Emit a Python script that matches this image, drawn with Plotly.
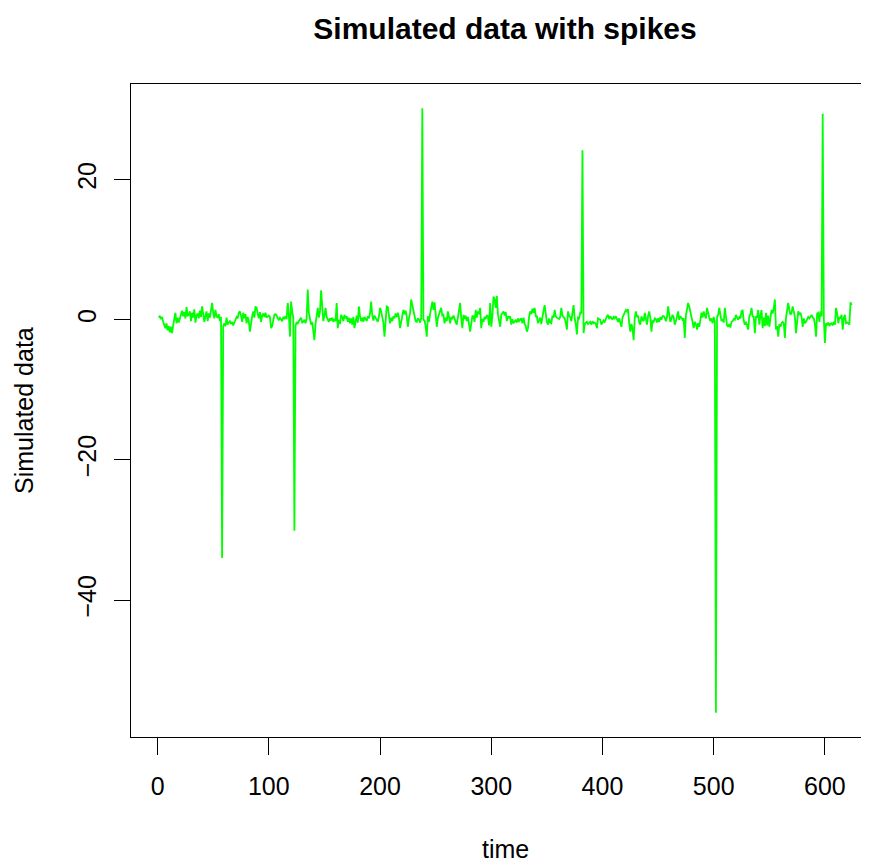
import plotly.graph_objects as go

# ---- data ----
values = [
    0.3, 0.5, 0.2, 0.4, -0.3, -0.8, -1.2, -0.5, -1.5, -0.9, -1.8, -1.0, -1.9, -0.8, 0.5, 1.0, -0.5, 0.3, -0.4, 0.2,
    0.8, 1.3, 0.5, 1.1, 0.2, 1.8, 0.6, 0.7, 1.2, -0.2, 1.0, 0.3, 1.5, -0.4, 0.6, 0.9, 0.2, 1.3, 0.4, 1.9,
    0.8, -0.3, 0.5, 1.2, -0.2, 0.9, 0.3, 1.1, 2.4, 1.0, 0.2, 1.4, 0.5, 0.3, 0.8, -0.2, 0.4, -34.0, -0.9, -0.5,
    -0.9, 0.3, -0.7, -0.4, -0.2, -0.6, -0.3, -0.8, -0.5, 0.0, 0.4, 0.2, 1.0, 1.2, 0.6, -0.3, 1.0, 0.2, 0.8, -0.5,
    0.4, -0.2, -1.7, -0.4, 0.5, 1.2, 0.3, 1.9, 1.7, 0.9, 0.2, 1.1, -0.3, 0.6, 0.9, 0.4, 1.0, 0.3, 0.5, 0.6,
    0.4, -1.2, -0.9, 0.2, 0.7, 0.8, 0.6, 0.2, 0.0, 0.3, 0.1, -0.2, 0.4, 0.2, 0.5, 0.1, 2.4, 0.8, -2.4, 2.6,
    1.2, 0.3, -30.1, -0.9, -0.3, -0.6, -0.2, 0.1, 0.3, -0.4, -0.3, 0.0, -0.5, 0.2, 4.3, 1.0, -0.2, -0.7, -0.3, -1.5,
    -2.9, -0.6, 0.5, 1.7, 0.3, 1.2, 4.2, 1.2, -0.2, 0.6, 1.7, 0.4, 0.0, -0.3, 0.2, -0.1, 0.3, -0.3, 0.1, -0.2,
    2.4, -1.2, 0.0, -0.6, 0.7, 0.4, -0.2, 0.7, 0.2, 0.5, -0.3, 0.3, -0.5, 0.2, -0.7, 0.4, -1.2, 0.1, 0.6, -0.4,
    1.9, 0.5, -0.2, 0.3, -0.3, 0.4, 0.1, -0.2, 0.5, 0.2, 0.9, 2.6, 0.7, -0.1, 0.6, 0.3, 0.1, -0.3, 0.5, 1.7,
    1.2, 0.3, -0.4, -2.4, 0.6, 1.9, 1.8, 0.4, -0.5, 0.3, -0.2, 0.5, 0.2, 0.9, 0.4, 1.0, 0.3, -1.2, -0.3, 0.6,
    1.4, 0.8, 1.3, 0.5, -1.0, 0.2, 0.9, 2.9, 2.1, 1.4, 0.6, -0.2, -0.3, 0.2, 0.0, -0.4, 0.3, 30.2, 0.0, -0.1,
    -0.9, -2.4, 0.5, -0.3, 0.8, 1.6, 2.6, 1.4, 2.5, 0.9, -1.0, 0.3, 0.8, 1.4, 1.7, 0.6, 0.7, -0.5, 0.3, -0.2,
    1.2, 0.4, -0.5, 0.3, 0.2, 0.6, 0.0, -0.3, -0.7, 0.5, 1.0, 2.4, 0.2, -1.2, 0.7, 0.1, 0.6, -0.2, 0.4, -0.5,
    -1.7, -0.6, 0.5, 0.5, -0.3, 1.4, 0.3, 1.2, 0.8, 1.7, -1.2, 0.1, -0.3, 0.4, 0.1, 0.6, 0.5, -0.8, 2.4, -1.0,
    0.5, 3.3, 2.9, 1.7, 3.4, 0.8, -0.5, -1.0, 0.7, 0.9, 1.2, 0.6, 1.1, -0.2, 0.5, 0.2, 0.5, -0.7, 0.1, -0.5,
    -0.3, 0.0, -0.4, 0.2, -0.2, 0.1, 0.2, -0.5, 0.3, -0.6, -0.9, -1.7, -1.2, 0.4, 1.2, 0.8, 1.6, 1.0, 1.7, 0.5,
    0.5, -0.5, -0.2, 0.3, -0.6, 0.7, 1.3, 2.1, 0.7, -0.3, -0.7, 0.2, -0.4, -0.5, 0.6, 0.3, 1.4, 0.5, 0.3, 0.2,
    0.1, 0.4, 1.7, 0.6, 0.4, 0.2, -0.4, -1.4, 1.2, 0.5, 0.4, -0.2, 1.0, 2.1, 0.2, -0.6, -2.1, 0.3, 0.2, 1.0,
    0.9, 24.2, -1.9, -0.7, -0.4, -0.3, -0.6, -0.5, -0.3, -0.7, -0.2, -0.5, -0.4, -0.6, -1.2, 0.2, 0.1, 0.0, -0.7, -0.4,
    -0.1, -0.3, 0.2, 0.5, 0.7, 0.1, 0.5, 0.3, 0.0, 0.4, 0.2, 0.5, -0.1, -0.3, 0.2, -0.5, -1.0, 0.3, 0.6, 1.0,
    1.4, 1.2, 1.5, -0.5, -1.7, -0.6, -1.2, -2.9, 0.2, 1.2, 0.4, 0.6, -0.4, -0.7, 0.5, 0.0, -0.2, 1.0, 0.3, -0.7,
    0.5, 1.2, 0.3, -1.7, -0.2, -0.3, 0.2, 0.1, -0.4, 0.2, -0.3, 0.4, 0.0, 0.5, 0.5, 0.3, -0.2, 0.4, 1.9, 0.6,
    -0.3, 0.2, 0.7, 0.4, -0.7, -0.2, 0.5, 1.2, 0.0, 0.5, 0.3, 0.0, 0.2, -2.6, 0.6, 1.3, 2.4, 1.9, 0.8, 0.4,
    -0.3, -1.2, -0.3, -0.6, -1.4, -0.5, -1.0, -0.2, 1.0, 0.3, 1.2, 0.6, 0.2, 1.7, 0.8, 0.3, -0.2, 0.2, -0.5, 0.4,
    -0.3, -56.1, 0.4, 0.7, 1.7, 0.9, -0.2, 0.1, -0.4, 1.7, 0.2, -0.8, -1.0, -0.6, -1.1, -0.3, -0.2, 0.1, 0.0, 0.7,
    0.3, 0.0, 0.4, 0.2, 1.2, 1.4, -0.1, -0.7, -0.3, -1.0, -1.4, 0.5, 0.8, 1.7, 0.5, 0.4, -1.9, 0.5, 0.3, 1.4,
    -0.7, 0.6, 1.4, -1.2, 0.3, -0.9, 1.0, -0.8, 0.6, -1.0, 0.2, 1.4, 0.9, 1.6, 2.9, -1.4, -0.9, -2.4, -0.6, -1.0,
    -0.5, -0.3, -0.5, -2.6, 0.3, 1.5, 2.4, 1.4, 0.7, 1.0, 1.9, 1.2, 0.4, -1.9, 0.3, 1.2, 0.7, 1.0, 0.4, -1.0,
    0.2, -0.5, -0.3, 0.1, 0.4, 0.2, 0.5, 0.7, 0.3, 0.2, -0.6, -2.4, 0.9, 1.0, -0.3, 1.2, 0.5, 29.4, 0.2, -3.3,
    -0.5, -0.7, -0.4, -0.9, -0.6, -0.5, -0.8, -0.3, -0.7, 1.7, 0.9, -0.5, 0.4, 0.2, 0.7, -1.4, 0.3, 0.7, -0.5, -0.4,
    -0.5, -0.7, 2.5, 2.1,
]
time = list(range(1, len(values) + 1))

x_ticks = [0, 100, 200, 300, 400, 500, 600]
y_ticks = [-40, -20, 0, 20]

title_text = "Simulated data with spikes"
x_label = "time"
y_label = "Simulated data"

# ---- layout geometry (page pixels; the page body adds an 8px margin) ----
OFF = 8
PAGE_W, PAGE_H = 869, 863
W, H = PAGE_W - OFF, PAGE_H - OFF
L, T, B = 131 - OFF, 84 - OFF, 737 - OFF   # plot box edges in figure px

xlo = time[0] - 0.04 * (time[-1] - time[0])
px_per_unit = 1.1122
xhi = xlo + (W - L) / px_per_unit
ylo = min(values) - 0.04 * (max(values) - min(values))
yhi = max(values) + 0.04 * (max(values) - min(values))

FONT = "Liberation Sans, Arial, sans-serif"

fig = go.Figure()
fig.add_trace(go.Scatter(
    x=time, y=values, mode="lines",
    line=dict(color="#00ff00", width=1.8),
    hoverinfo="skip", showlegend=False,
))

fig.update_layout(
    width=W, height=H,
    margin=dict(l=L, r=0, t=T, b=H - B, pad=0),
    paper_bgcolor="white", plot_bgcolor="white",
    font=dict(family=FONT, size=25, color="black"),
    title=dict(
        text="<b>" + title_text + "</b>",
        font=dict(family=FONT, size=30, color="black"),
        xref="container", yref="container",
        x=(505 - OFF) / W, xanchor="center",
        y=1 - (28 - OFF) / H, yanchor="middle",
    ),
    showlegend=False,
)

fig.update_xaxes(
    range=[xlo, xhi], tickmode="array", tickvals=x_ticks,
    ticktext=[str(v) for v in x_ticks],
    showgrid=False, zeroline=False,
    showline=True, linecolor="black", linewidth=1, mirror=True,
    ticks="outside", ticklen=17, tickwidth=1, tickcolor="black",
    tickfont=dict(family=FONT, size=25, color="black"),
    ticklabelstandoff=10,
)
fig.update_yaxes(
    range=[ylo, yhi], tickmode="array", tickvals=y_ticks,
    showgrid=False, zeroline=False,
    showline=True, linecolor="black", linewidth=1, mirror=False,
    ticks="outside", ticklen=16, tickwidth=1, tickcolor="black",
    tickfont=dict(family=FONT, size=25, color="black"),
    tickangle=-90, ticklabelstandoff=8,
)

fig.add_annotation(
    text=x_label, xref="paper", yref="paper",
    x=(505 - OFF - L) / (W - L), y=(B - (849 - OFF)) / (B - T),
    xanchor="center", yanchor="middle", showarrow=False,
    font=dict(family=FONT, size=25, color="black"),
)
fig.add_annotation(
    text=y_label, xref="paper", yref="paper",
    x=(24 - OFF - L) / (W - L), y=(B - (410 - OFF)) / (B - T),
    xanchor="center", yanchor="middle", textangle=-90, showarrow=False,
    font=dict(family=FONT, size=25, color="black"),
)

fig.write_html("out.html")
